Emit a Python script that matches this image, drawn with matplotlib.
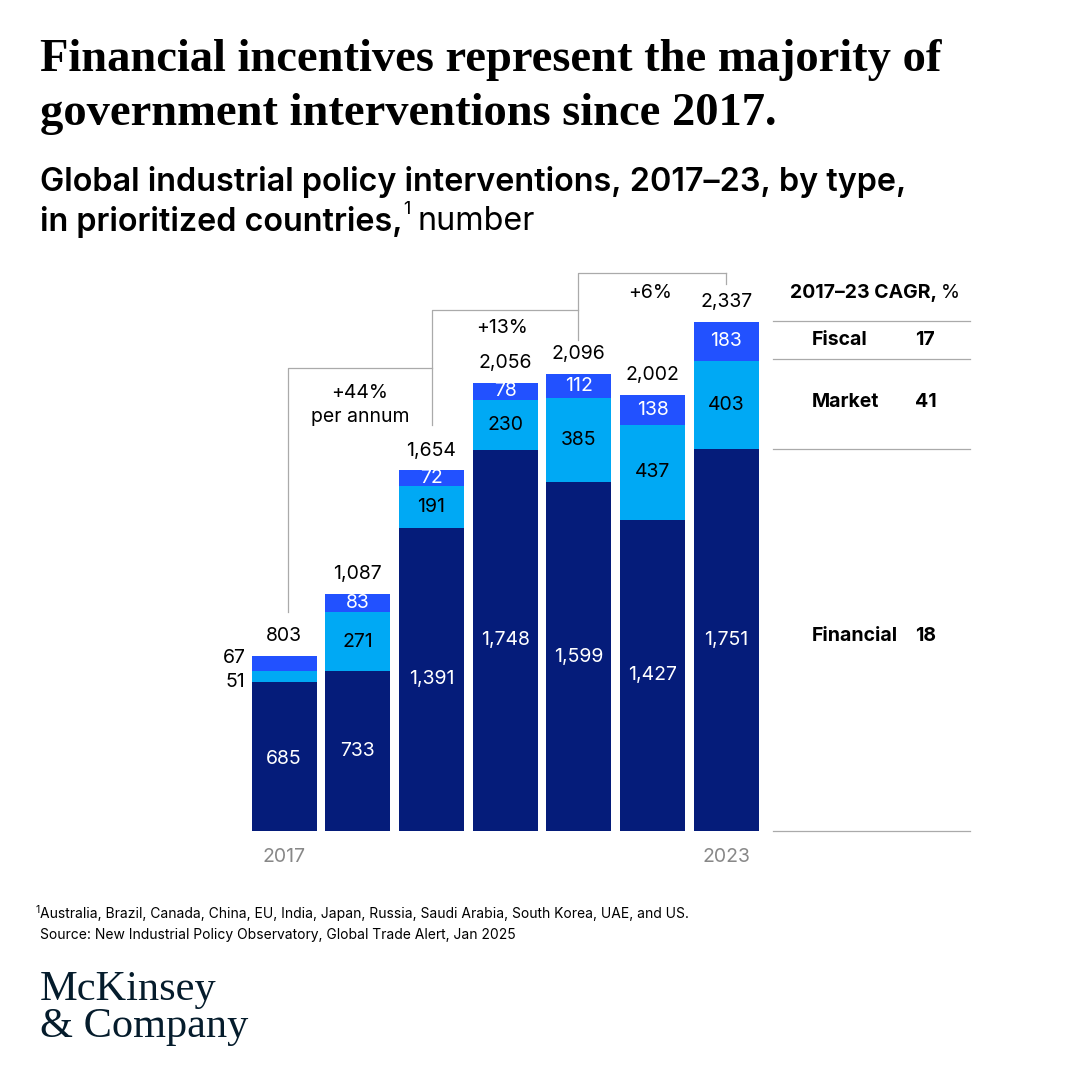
import matplotlib
matplotlib.use("Agg")
import matplotlib.pyplot as plt

years = ["2017", "2018", "2019", "2020", "2021", "2022", "2023"]
financial = [685, 733, 1391, 1748, 1599, 1427, 1751]
market = [51, 271, 191, 230, 385, 437, 403]
fiscal = [67, 83, 72, 78, 112, 138, 183]
totals = [803, 1087, 1654, 2056, 2096, 2002, 2337]
cagr_labels = ["Fiscal", "Market", "Financial"]
cagr_values = [17, 41, 18]

NAVY, CYAN, BLUE = "#051C7A", "#00A9F4", "#2251FF"
W = H = 1080
fig = plt.figure(figsize=(10.8, 10.8), dpi=100)
R = fig.canvas.get_renderer()
def P(x, y):
    return (x / W, 1 - y / H)
def T(x, y, s, **kw):
    return fig.text(*P(x, y), s, **kw)
def after(t, gap, y, s, **kw):
    bb = t.get_window_extent(R)
    return fig.text(bb.x1 / W + gap / W, 1 - y / H, s, **kw)

sans = "Inter"
left, right, bottom, top = 240, 970, 831, 270
ax = fig.add_axes([left / W, 1 - bottom / H, (right - left) / W, (bottom - top) / H])
sp = 73.7
ax.set_xlim(-(284 - left) / sp, (right - 284) / sp)
ppu = 0.2180
ax.set_ylim(0, (bottom - top) / ppu)
ax.axis("off")
x = list(range(len(years)))
bw = 65 / sp
ax.bar(x, financial, bw, color=NAVY)
ax.bar(x, market, bw, bottom=financial, color=CYAN)
b2 = [f + m for f, m in zip(financial, market)]
ax.bar(x, fiscal, bw, bottom=b2, color=BLUE)

def fmt(v):
    return f"{v:,}"
fs = 14
for i in x:
    ax.text(i, financial[i] / 2 if i else 330, fmt(financial[i]), ha="center", va="center", color="white", fontsize=fs, family=sans)
    ax.text(i, totals[i] + 50, fmt(totals[i]), ha="center", va="bottom", fontsize=fs, family=sans)
    if i == 0:
        ax.text(-0.52, financial[0] + market[0] / 2 - 25, fmt(market[0]), ha="right", va="center", fontsize=fs, family=sans)
        ax.text(-0.52, b2[0] + fiscal[0] / 2 + 25, fmt(fiscal[0]), ha="right", va="center", fontsize=fs, family=sans)
    else:
        ax.text(i, financial[i] + market[i] / 2, fmt(market[i]), ha="center", va="center", color="black", fontsize=fs, family=sans)
        ax.text(i, b2[i] + fiscal[i] / 2, fmt(fiscal[i]), ha="center", va="center", color="white", fontsize=fs, family=sans)

gray = "#AAAAAA"
def L(xs, ys):
    fig.add_artist(plt.Line2D([a / W for a in xs], [1 - b / H for b in ys], color=gray, lw=0.9))
L([288, 288, 432], [612, 368, 368])
L([432, 432, 578], [425, 310, 310])
L([578, 578, 726], [340, 273, 273])
L([726, 726], [273, 284])
T(360, 405, "+44%\nper annum", ha="center", va="center", fontsize=14, family=sans, linespacing=1.5)
T(502, 328, "+13%", ha="center", va="center", fontsize=14, family=sans)
T(650, 293, "+6%", ha="center", va="center", fontsize=14, family=sans)

T(284, 857, "2017", ha="center", va="center", fontsize=14, color="#888888", family=sans)
T(726, 857, "2023", ha="center", va="center", fontsize=14, color="#888888", family=sans)

h = T(790, 293, "2017–23 CAGR,", ha="left", va="center", fontsize=14, weight="bold", family=sans)
after(h, 4, 293, "%", ha="left", va="center", fontsize=14, family=sans)
for yy in [321, 359, 449, 831]:
    L([773, 970], [yy, yy])
for lab, val, yy in zip(cagr_labels, cagr_values, [340, 402, 636]):
    T(812, yy, lab, ha="left", va="center", fontsize=14, weight="bold", family=sans)
    T(915, yy, str(val), ha="left", va="center", fontsize=14, weight="bold", family=sans)

T(40, 60, "Financial incentives represent the majority of", ha="left", va="center", fontsize=33.5, weight="bold", family="Liberation Serif")
T(40, 114, "government interventions since 2017.", ha="left", va="center", fontsize=33.5, weight="bold", family="Liberation Serif")
T(40, 182, "Global industrial policy interventions, 2017–23, by type,", ha="left", va="center", fontsize=23.3, weight="semibold", family=sans)
s = T(40, 222, "in prioritized countries,", ha="left", va="center", fontsize=23.3, weight="semibold", family=sans)
s1 = after(s, 1, 210, "1", ha="left", va="center", fontsize=13, family=sans)
after(s1, 6, 222, "number", ha="left", va="center", fontsize=23.3, family=sans)

f1 = T(36, 910, "1", ha="left", va="center", fontsize=7.5, family=sans)
after(f1, 0, 914, "Australia, Brazil, Canada, China, EU, India, Japan, Russia, Saudi Arabia, South Korea, UAE, and US.", ha="left", va="center", fontsize=10, family=sans)
T(40, 935, "Source: New Industrial Policy Observatory, Global Trade Alert, Jan 2025", ha="left", va="center", fontsize=10, family=sans)
T(40, 990, "McKinsey", ha="left", va="center", fontsize=30.5, family="Liberation Serif", color="#051C2C")
T(40, 1027, "& Company", ha="left", va="center", fontsize=30.5, family="Liberation Serif", color="#051C2C")

fig.savefig("out.png", dpi=100, facecolor="white")
